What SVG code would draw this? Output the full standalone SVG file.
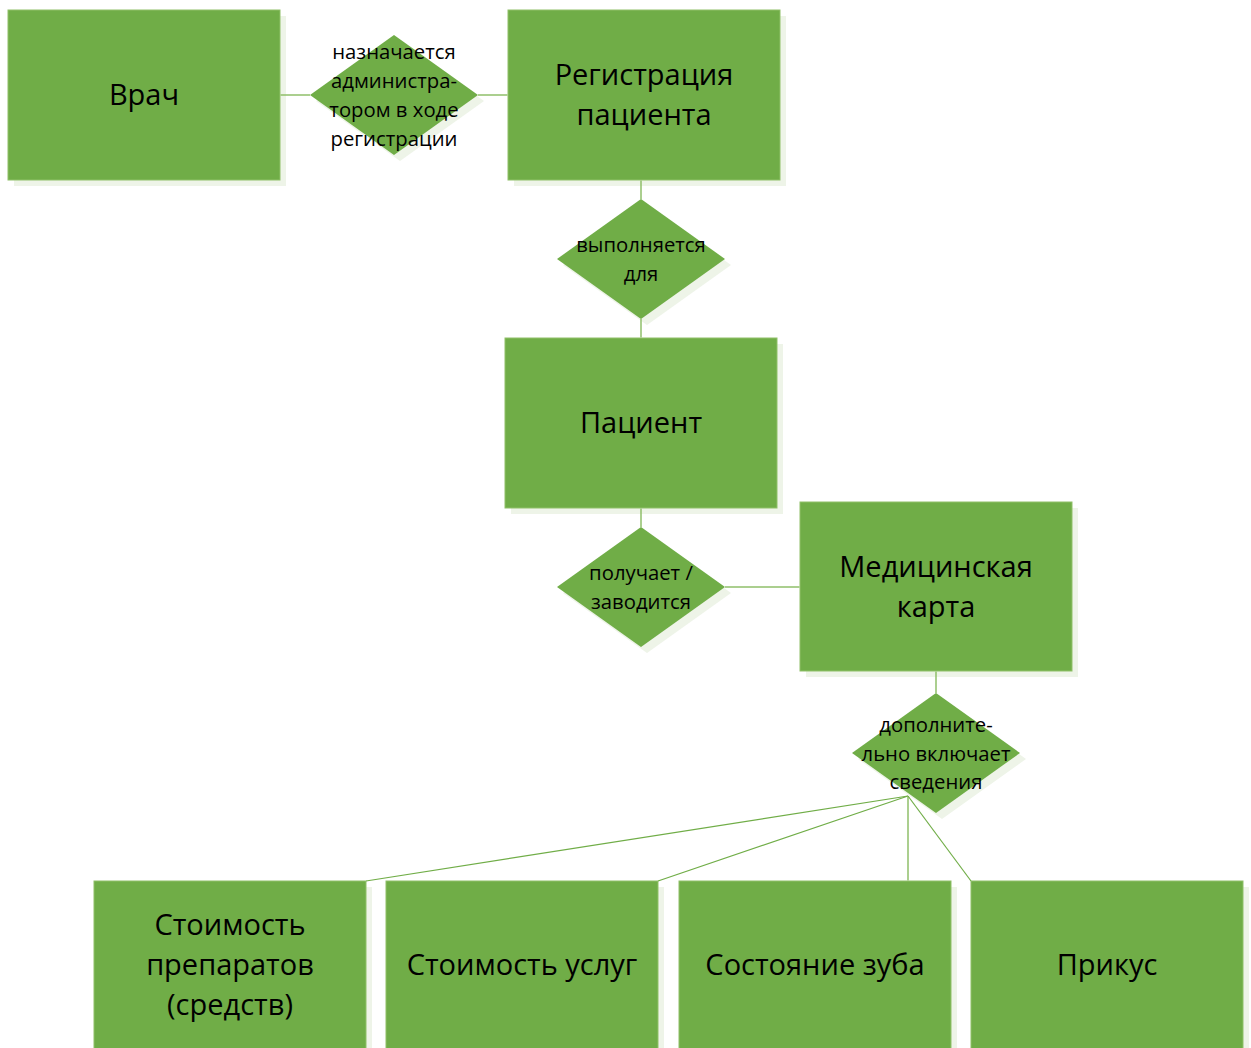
<svg xmlns="http://www.w3.org/2000/svg" width="1251" height="1048" viewBox="0 0 1251 1048">
<style>
.sh{fill:#eef4e8}
.box{fill:#70ad47;stroke:#8fc069;stroke-width:1}
.dia{fill:#70ad47}
.t{font-family:"Open Sans","Noto Sans",sans-serif;font-size:29px;fill:#000;text-anchor:middle;dominant-baseline:central}
.d{font-family:"Open Sans","Noto Sans",sans-serif;font-size:20.3px;fill:#000;text-anchor:middle;dominant-baseline:central}
.c{stroke:#8fbf6a;stroke-width:1.5;fill:none}
.f{stroke:#70ad47;stroke-width:1.2;fill:none}
</style>
<rect width="1251" height="1048" fill="#fff"/>
<g id="vrach">
<rect class="sh" x="14" y="16" width="272" height="170"/>
<rect class="box" x="8" y="10" width="272" height="170"/>
<text class="t" x="144" y="93.5">Врач</text>
</g>
<g id="rel1">
<polygon class="sh" points="400,41 484,101 400,161 316,101"/>
<polygon class="dia" points="394,35 478,95 394,155 310,95"/>
<text class="d" x="394" y="50.5">назначается</text>
<text class="d" x="394" y="79.5">администра-</text>
<text class="d" x="394" y="108.5">тором в ходе</text>
<text class="d" x="394" y="137.5">регистрации</text>
</g>
<g id="registration">
<rect class="sh" x="514" y="16" width="272" height="170"/>
<rect class="box" x="508" y="10" width="272" height="170"/>
<text class="t" x="644" y="73.5">Регистрация</text>
<text class="t" x="644" y="113.5">пациента</text>
</g>
<g id="rel2">
<polygon class="sh" points="647,205 731,265 647,325 563,265"/>
<polygon class="dia" points="641,199 725,259 641,319 557,259"/>
<text class="d" x="641" y="243.5">выполняется</text>
<text class="d" x="641" y="272.5">для</text>
</g>
<g id="patient">
<rect class="sh" x="511" y="344" width="272" height="170"/>
<rect class="box" x="505" y="338" width="272" height="170"/>
<text class="t" x="641" y="421.5">Пациент</text>
</g>
<g id="rel3">
<polygon class="sh" points="647,533 731,593 647,653 563,593"/>
<polygon class="dia" points="641,527 725,587 641,647 557,587"/>
<text class="d" x="641" y="571.5">получает /</text>
<text class="d" x="641" y="600.5">заводится</text>
</g>
<g id="medcard">
<rect class="sh" x="806" y="508" width="272" height="169"/>
<rect class="box" x="800" y="502" width="272" height="169"/>
<text class="t" x="936" y="565.5">Медицинская</text>
<text class="t" x="936" y="605.5">карта</text>
</g>
<g id="rel4">
<polygon class="sh" points="942,699 1026,759 942,819 858,759"/>
<polygon class="dia" points="936,693 1020,753 936,813 852,753"/>
<text class="d" x="936" y="723.5">дополните-</text>
<text class="d" x="936" y="752.5">льно включает</text>
<text class="d" x="936" y="780.5">сведения</text>
</g>
<g id="drugs">
<rect class="sh" x="100" y="887" width="272" height="170"/>
<rect class="box" x="94" y="881" width="272" height="170"/>
<text class="t" x="230" y="923.5">Стоимость</text>
<text class="t" x="230" y="963.5">препаратов</text>
<text class="t" x="230" y="1003.5">(средств)</text>
</g>
<g id="services">
<rect class="sh" x="392" y="887" width="272" height="170"/>
<rect class="box" x="386" y="881" width="272" height="170"/>
<text class="t" x="522" y="963.5">Стоимость услуг</text>
</g>
<g id="tooth">
<rect class="sh" x="685" y="887" width="272" height="170"/>
<rect class="box" x="679" y="881" width="272" height="170"/>
<text class="t" x="815" y="963.5">Состояние зуба</text>
</g>
<g id="bite">
<rect class="sh" x="977" y="887" width="272" height="170"/>
<rect class="box" x="971" y="881" width="272" height="170"/>
<text class="t" x="1107" y="963.5">Прикус</text>
</g>
<g id="connectors">
<line class="c" x1="280.5" y1="95" x2="310" y2="95"/>
<line class="c" x1="478" y1="95" x2="507.5" y2="95"/>
<line class="c" x1="641" y1="180.5" x2="641" y2="199"/>
<line class="c" x1="641" y1="319" x2="641" y2="337.5"/>
<line class="c" x1="641" y1="508.5" x2="641" y2="527"/>
<line class="c" x1="725" y1="587" x2="799.5" y2="587"/>
<line class="c" x1="936" y1="671.5" x2="936" y2="693"/>
<line class="f" x1="908" y1="796" x2="366" y2="881"/>
<line class="f" x1="908" y1="796" x2="658" y2="881"/>
<line class="c" x1="908" y1="796" x2="908" y2="880.5"/>
<line class="f" x1="908" y1="796" x2="971" y2="881"/>
</g>
</svg>
